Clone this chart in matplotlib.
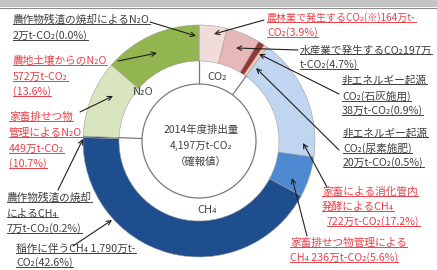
import matplotlib
matplotlib.use('Agg')
import matplotlib.pyplot as plt
from matplotlib.patches import Circle, Rectangle
import numpy as np

plt.rcParams['font.family'] = ['Noto Sans CJK JP', 'DejaVu Sans']

W, H = 437, 270

# outer ring: sources, clockwise from 12 o'clock (share of total, %)
sources = ['農林業CO2', '水産業CO2', '石灰施用CO2', '尿素施肥CO2',
           '消化管内発酵CH4', '家畜排せつ物CH4', '稲作CH4', '残渣焼却CH4',
           '家畜排せつ物N2O', '農地土壌N2O', '残渣焼却N2O']
shares = [3.9, 4.7, 0.9, 0.5, 17.2, 5.6, 42.6, 0.2, 10.7, 13.6, 0.0]
src_colors = ['#F2DCDB', '#E6B9B8', '#943634', '#F8CBAD',
              '#C0D5F0', '#4F89D2', '#1F4E8E', '#17375E',
              '#D7E4BD', '#92B550', '#4F6228']

# inner ring: gases
gases = ['CO₂', 'CH₄', 'N₂O']
gas_shares = [10.0, 65.6, 24.3]

DARK = '#404040'
RED = '#E8414A'

# label lines: (text, x px, y px, colour)
labels = [
    ('農作物残渣の焼却によるN₂O', 13, 20, DARK),
    ('2万t-CO₂(0.0%)', 13, 36, DARK),
    ('農地土壌からのN₂O', 13, 61, RED),
    ('572万t-CO₂', 13, 77, RED),
    ('(13.6%)', 13, 92, RED),
    ('家畜排せつ物', 9, 117, RED),
    ('管理によるN₂O', 9, 133, RED),
    ('449万t-CO₂', 9, 149, RED),
    ('(10.7%)', 9, 164, RED),
    ('農作物残渣の焼却', 7, 198, DARK),
    ('によるCH₄', 7, 213, DARK),
    ('7万t-CO₂(0.2%)', 7, 229, DARK),
    ('稲作に伴うCH₄ 1,790万t-', 16, 248, DARK),
    ('CO₂(42.6%)', 16, 263, DARK),
    ('農林業で発生するCO₂(※)164万t-', 267, 18, RED),
    ('CO₂(3.9%)', 267, 33, RED),
    ('水産業で発生するCO₂197万', 300, 50, DARK),
    ('t-CO₂(4.7%)', 300, 65, DARK),
    ('非エネルギー起源', 342, 80, DARK),
    ('CO₂(石灰施用)', 342, 96, DARK),
    ('38万t-CO₂(0.9%)', 342, 111, DARK),
    ('非エネルギー起源', 343, 133, DARK),
    ('CO₂(尿素施肥)', 343, 148, DARK),
    ('20万t-CO₂(0.5%)', 343, 163, DARK),
    ('家畜による消化管内', 322, 192, RED),
    ('発酵によるCH₄', 322, 207, RED),
    ('722万t-CO₂(17.2%)', 327, 222, RED),
    ('家畜排せつ物管理による', 290, 243, RED),
    ('CH₄ 236万t-CO₂(5.6%)', 290, 258, RED),
]

# leader arrows: (start px, tip px)
arrows = [
    ((150, 22), (196, 36)),
    ((118, 61), (157, 53)),
    ((80, 112), (113, 96)),
    ((58, 190), (83, 139)),
    ((73, 246), (112, 220)),
    ((264, 20), (214, 34)),
    ((298, 50), (236, 48)),
    ((339, 94), (259, 54)),
    ((339, 150), (256, 68)),
    ((327, 187), (303, 143)),
    ((307, 236), (292, 178)),
]

fig = plt.figure(figsize=(W / 100, H / 100), dpi=100)
ax = fig.add_axes([0, 0, 1, 1])

cx, cy = 199, H - 141
r_out, r_in, r_core = 116, 80, 57

wedges, _ = ax.pie(shares, colors=src_colors, radius=r_out, center=(cx, cy),
                   startangle=90, counterclock=False, frame=True,
                   wedgeprops=dict(width=r_out - r_in, edgecolor='#a0a0a0',
                                   linewidth=0.4))
for w in wedges:
    w.set_zorder(2)

# gas separators
cum = np.concatenate([[0], np.cumsum(gas_shares)]) / sum(gas_shares)
for f in cum[:-1]:
    th = np.deg2rad(90 - 360 * f)
    ax.plot([cx + r_core * np.cos(th), cx + r_in * np.cos(th)],
            [cy + r_core * np.sin(th), cy + r_in * np.sin(th)],
            color='#7a7a7a', lw=0.9, zorder=3)
ax.add_patch(Circle((cx, cy), r_core, fc='white', ec='#7a7a7a', lw=0.9, zorder=3))

gas_pos = [(217, 77), (207, 210), (143, 92)]
for g, (gx, gy) in zip(gases, gas_pos):
    ax.text(gx, H - gy, g, ha='center', va='center', fontsize=8, color=DARK, zorder=4)

for s, yy in [('2014年度排出量', 130), ('4,197万t-CO₂', 146), ('（確報値）', 162)]:
    ax.text(201, H - yy, s, ha='center', va='center', fontsize=7.5, color=DARK, zorder=4)

texts = []
for s, x, y, c in labels:
    fs = 7.2 if s.startswith('農林業') else 7.7
    texts.append(ax.text(x, H - y, s, ha='left', va='center', fontsize=fs,
                         color=c, zorder=1))

for (x0, y0), (x1, y1) in arrows:
    ax.annotate('', xy=(x1, H - y1), xytext=(x0, H - y0), zorder=5,
                arrowprops=dict(arrowstyle='->', color='#202020', lw=0.8,
                                shrinkA=0, shrinkB=0, mutation_scale=8))

# screenshot border at top
ax.add_patch(Rectangle((0, H - 7), W, 7, fc='#c4c4c4', ec='none', zorder=6))
ax.plot([0, W], [H - 7.5, H - 7.5], color='#8c8c8c', lw=0.8, zorder=6)

ax.set_xlim(0, W)
ax.set_ylim(0, H)
ax.set_aspect('equal')
ax.axis('off')

# underline the labels
fig.canvas.draw()
rend = fig.canvas.get_renderer()
inv = ax.transData.inverted()
for t in texts:
    bb = t.get_window_extent(renderer=rend)
    (a0, b0), (a1, _) = inv.transform([(bb.x0, bb.y0), (bb.x1, bb.y1)])
    ax.plot([a0, a1], [b0 + 1, b0 + 1], color=t.get_color(), lw=0.7, zorder=1)

fig.savefig('out.png', dpi=100)
